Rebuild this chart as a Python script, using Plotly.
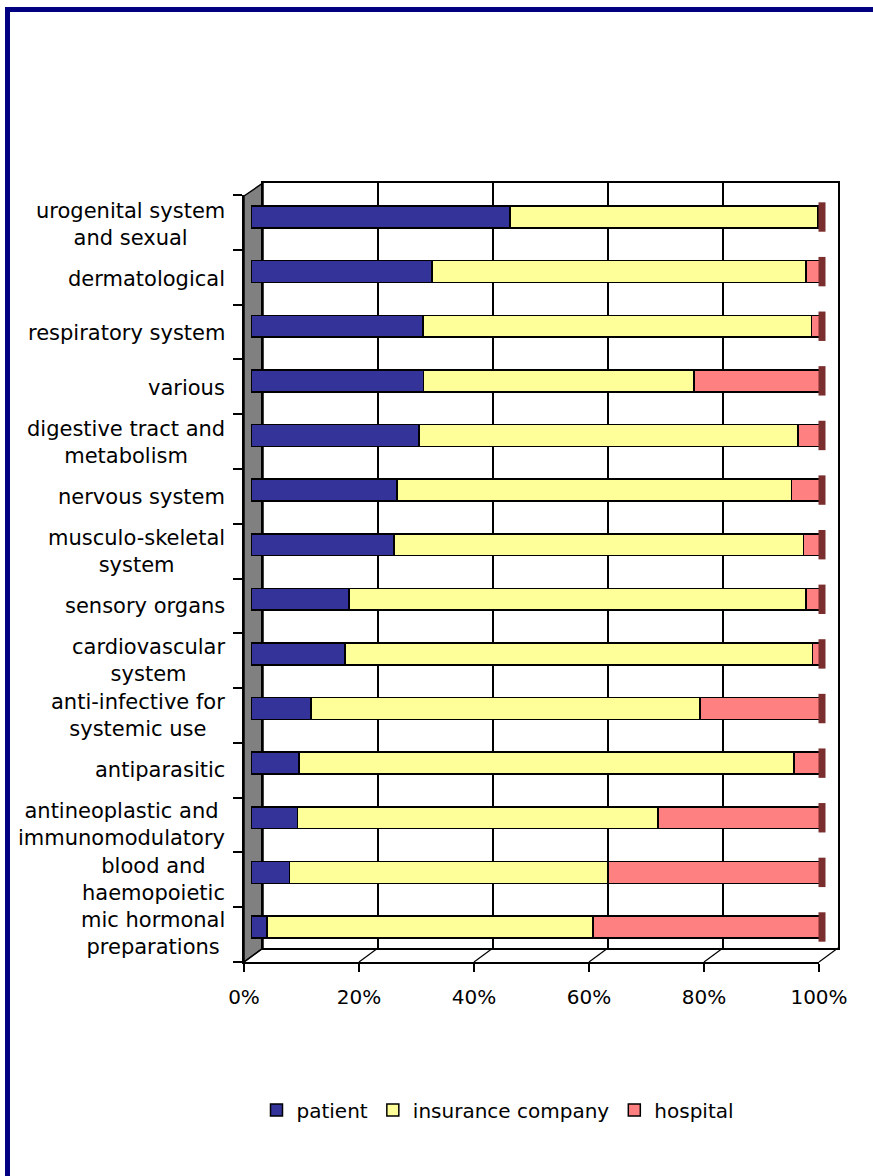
import plotly.graph_objects as go

W, H = 873, 1176

# ---- data (percent shares) ----
category_lines = [
    ["urogenital system", "and sexual"],
    ["dermatological"],
    ["respiratory system"],
    ["various"],
    ["digestive tract and", "metabolism"],
    ["nervous system"],
    ["musculo-skeletal", "system"],
    ["sensory organs"],
    ["cardiovascular", "system"],
    ["anti-infective for", "systemic use"],
    ["antiparasitic"],
    ["antineoplastic and", "immunomodulatory"],
    ["blood and", "haemopoietic"],
    ["mic hormonal", "preparations"],
]
patient = [45.4, 31.7, 30.1, 30.2, 29.4, 25.6, 25.0, 17.2, 16.5, 10.5, 8.4, 8.1, 6.7, 2.8]
insurance = [53.9, 65.5, 68.1, 47.4, 66.4, 69.1, 71.8, 80.0, 81.8, 68.1, 86.7, 63.2, 55.8, 57.1]
hospital = [0.7, 2.8, 1.8, 22.4, 4.2, 5.3, 3.2, 2.8, 1.7, 21.4, 4.9, 28.7, 37.5, 40.1]
series_names = ["patient", "insurance company", "hospital"]
series_colors = ["#333399", "#FFFF99", "#FF8080"]
cap_color = "#7A2E2E"
tick_vals = [0, 20, 40, 60, 80, 100]
tick_text = ["0%", "20%", "40%", "60%", "80%", "100%"]

FONT = "DejaVu Sans"


def px(x):
    return x / W


def py(y):
    return 1 - y / H


cat_ids = [" ".join(l) for l in category_lines]
totals = [round(a + b + c, 6) for a, b, c in zip(patient, insurance, hospital)]

fig = go.Figure()

# back wall subplot (xy) - gridlines
fig.add_trace(go.Scatter(x=[None], y=[None], xaxis="x", yaxis="y",
                         showlegend=False, hoverinfo="skip"))
# front axis subplot (x2y2) - ticks and labels
fig.add_trace(go.Scatter(x=[None], y=[None], xaxis="x2", yaxis="y2",
                         showlegend=False, hoverinfo="skip"))
# bars (x3y3)
for name, vals, col in zip(series_names, [patient, insurance, hospital], series_colors):
    fig.add_trace(go.Bar(
        name=name, y=cat_ids, x=vals, orientation="h",
        xaxis="x3", yaxis="y3",
        marker=dict(color=col, line=dict(color="#000000", width=1.5)),
        width=0.4,
    ))
# dark end caps (3-D look) at the end of each stacked bar
fig.add_trace(go.Scatter(
    x=totals, y=cat_ids, xaxis="x3", yaxis="y3", mode="markers",
    marker=dict(symbol="line-ns-open", size=21, color=cap_color,
                line=dict(color=cap_color, width=7)),
    showlegend=False, hoverinfo="skip", cliponaxis=False,
))

# geometry (pixels)
FX0, FX1, FY0, FY1 = 244, 819, 195, 962      # front plane
BX0, BX1, BY0, BY1 = 263, 838, 183, 948      # back plane
BARX0, BAR100 = 251, 822                      # bar 0% and 100% positions
BAR_TOP, BAR_BOT = 189.7, 954.3
XMAX3 = 101.0                                 # headroom so end caps are not dropped
BARX1 = BARX0 + (BAR100 - BARX0) * XMAX3 / 100

n_cat = len(cat_ids)

fig.update_layout(
    width=W, height=H,
    margin=dict(l=0, r=0, t=0, b=0, pad=0, autoexpand=False),
    paper_bgcolor="white",
    plot_bgcolor="rgba(0,0,0,0)",
    barmode="stack",
    font=dict(family=FONT, size=20, color="#000000"),
    xaxis=dict(domain=[px(BX0), px(BX1)], range=[0, 100], anchor="y",
               showgrid=True, gridcolor="#000000", gridwidth=1.5,
               tickvals=tick_vals[1:-1], showticklabels=False, ticks="",
               showline=True, linecolor="#000000", linewidth=1.5, mirror=True,
               zeroline=False, fixedrange=True, automargin=False),
    yaxis=dict(domain=[py(BY1), py(BY0)], range=[0, 1], anchor="x",
               showgrid=False, showticklabels=False, ticks="",
               showline=True, linecolor="#000000", linewidth=1.5, mirror=True,
               zeroline=False, fixedrange=True, automargin=False),
    xaxis2=dict(domain=[px(FX0), px(FX1)], range=[0, 100], anchor="y2",
                tickvals=tick_vals, ticktext=tick_text, ticks="outside",
                ticklen=8, tickwidth=1.5, tickcolor="#000000",
                ticklabelstandoff=8,
                showline=True, linecolor="#000000", linewidth=1.5,
                showgrid=False, zeroline=False,
                tickfont=dict(family=FONT, size=20, color="#000000"),
                fixedrange=True, automargin=False),
    yaxis2=dict(domain=[py(FY1), py(FY0)], range=[0, n_cat], anchor="x2",
                dtick=1, tick0=0, ticks="outside", ticklen=9, tickwidth=1.5,
                tickcolor="#000000", showticklabels=False,
                showline=True, linecolor="#000000", linewidth=1.5,
                showgrid=False, zeroline=False, fixedrange=True, automargin=False),
    xaxis3=dict(domain=[px(BARX0), px(BARX1)], range=[0, XMAX3], anchor="y3",
                showgrid=False, showticklabels=False, ticks="", showline=False,
                zeroline=False, fixedrange=True, automargin=False),
    yaxis3=dict(domain=[py(BAR_BOT), py(BAR_TOP)], anchor="x3", type="category",
                range=[n_cat - 0.5, -0.5], autorange=False,
                showgrid=False, showticklabels=False,
                ticks="", showline=False, zeroline=False, fixedrange=True,
                automargin=False),
    legend=dict(orientation="h", x=px(498), xanchor="center", y=py(1110),
                yanchor="middle", font=dict(family=FONT, size=20),
                bgcolor="rgba(0,0,0,0)", traceorder="normal"),
    showlegend=True,
)

shapes = []
# gray left wall
shapes.append(dict(type="path", xref="paper", yref="paper", layer="below",
                   path=f"M {px(FX0)},{py(FY0 + 1)} L {px(BX0)},{py(BY0)} L {px(BX0)},{py(BY1)} L {px(FX0)},{py(FY1)} Z",
                   fillcolor="#808080", line=dict(color="#000000", width=1.5)))
# floor diagonal connectors at each tick
for v in tick_vals:
    fx = FX0 + (FX1 - FX0) * v / 100
    bx = BX0 + (BX1 - BX0) * v / 100
    shapes.append(dict(type="line", xref="paper", yref="paper", layer="below",
                       x0=px(fx), y0=py(FY1), x1=px(bx), y1=py(BY1),
                       line=dict(color="#000000", width=1.2)))
# navy frame (top and left)
shapes.append(dict(type="rect", xref="paper", yref="paper", layer="above",
                   x0=px(5), x1=1, y0=py(12), y1=py(7),
                   fillcolor="#000080", line=dict(width=0)))
shapes.append(dict(type="rect", xref="paper", yref="paper", layer="above",
                   x0=px(5), x1=px(10), y0=0, y1=py(7),
                   fillcolor="#000080", line=dict(width=0)))
fig.update_layout(shapes=shapes)

annotations = []
for cid, lines in zip(cat_ids, category_lines):
    annotations.append(dict(
        text="<br>".join(lines), x=px(227), xref="paper", y=cid, yref="y3",
        xanchor="right", yanchor="middle", align="center", yshift=-7,
        showarrow=False, font=dict(family=FONT, size=21, color="#000000"),
    ))
fig.update_layout(annotations=annotations)

fig.write_html("out.html")
